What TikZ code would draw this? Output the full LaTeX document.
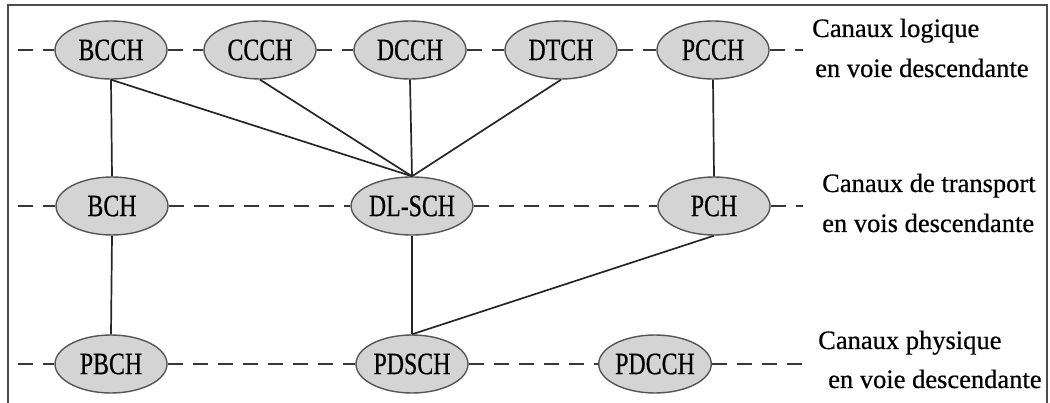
\documentclass[tikz,border=0pt]{standalone}
\usepackage{fontspec}
\setmainfont{Liberation Serif}
\newfontfamily\chanfont{Liberation Serif}[FakeBold=0.6]
\usetikzlibrary{shapes.geometric}
\definecolor{chfill}{RGB}{212,212,212}
\definecolor{chline}{RGB}{85,85,85}
\definecolor{dashcol}{RGB}{55,55,55}
\newcommand\chtext[1]{\scalebox{0.77}[1]{#1}}
\tikzset{
  chan/.style={ellipse, draw=chline, fill=chfill, line width=1.4pt,
    minimum width=112pt, minimum height=58pt, inner sep=0pt,
    font=\chanfont\fontsize{31}{31}\selectfont},
  dashline/.style={draw=dashcol, line width=2.4pt, dash pattern=on 15pt off 10pt},
  link/.style={draw=black!85, line width=1.7pt},
  rowlabel/.style={anchor=base west, inner sep=0pt, align=left,
    font=\chanfont\fontsize{26.5}{40}\selectfont}
}
\begin{document}
\begin{tikzpicture}[x=1pt,y=-1pt]
\useasboundingbox (0,0) rectangle (1050,403);
% frame
\draw[line width=1.4pt, black!70] (8,403) -- (8,5) -- (1047,5) -- (1047,403);

% line ends
\coordinate (r1s) at (18,50);  \coordinate (r1e) at (803,50);
\coordinate (r2s) at (18,206); \coordinate (r2e) at (803,206);
\coordinate (r3s) at (18,364); \coordinate (r3e) at (805,364);

% logical channels
\node[chan] (bcch) at (111,50) {\chtext{BCCH}};
\node[chan] (ccch) at (260,50) {\chtext{CCCH}};
\node[chan] (dcch) at (410,50) {\chtext{DCCH}};
\node[chan] (dtch) at (561,50) {\chtext{DTCH}};
\node[chan] (pcch) at (713,50) {\chtext{PCCH}};
% transport channels
\node[chan] (bch) at (112,206) {\chtext{BCH}};
\node[chan] (dlsch) at (412,206) {\chtext{DL-SCH}};
\node[chan] (pch) at (714,206) {\chtext{PCH}};
% physical channels
\node[chan] (pbch) at (111,364) {\chtext{PBCH}};
\node[chan] (pdsch) at (412,364) {\chtext{PDSCH}};
\node[chan, minimum width=104pt] (pdcch) at (655,364) {\chtext{PDCCH}};

% dashed layer lines
\draw[dashline] (r1s) -- (bcch) -- (ccch) -- (dcch) -- (dtch) -- (pcch) -- (r1e);
\draw[dashline] (r2s) -- (bch) -- (dlsch) -- (pch) -- (r2e);
\draw[dashline] (r3s) -- (pbch) -- (pdsch) -- (pdcch) -- (r3e);

% mappings
\draw[link] (bcch.south) -- (bch.north);
\draw[link] (bcch.south) -- (dlsch.north);
\draw[link] (ccch.south) -- (dlsch.north);
\draw[link] (dcch.south) -- (dlsch.north);
\draw[link] (dtch.south) -- (dlsch.north);
\draw[link] (pcch.south) -- (pch.north);
\draw[link] (bch.south) -- (pbch.north);
\draw[link] (dlsch.south) -- (pdsch.north);
\draw[link] (pch.south) -- (pdsch.north);

% layer labels
\node[rowlabel] (l1a) at (812,37) {Canaux logique};
\node[rowlabel] (l1b) at (815,77) {en voie descendante};
\node[rowlabel] (l2a) at (822,192) {Canaux de transport};
\node[rowlabel] (l2b) at (822,232) {en vois descendante};
\node[rowlabel] (l3a) at (818,349) {Canaux physique};
\node[rowlabel] (l3b) at (828,388) {en voie descendante};
\end{tikzpicture}
\end{document}
